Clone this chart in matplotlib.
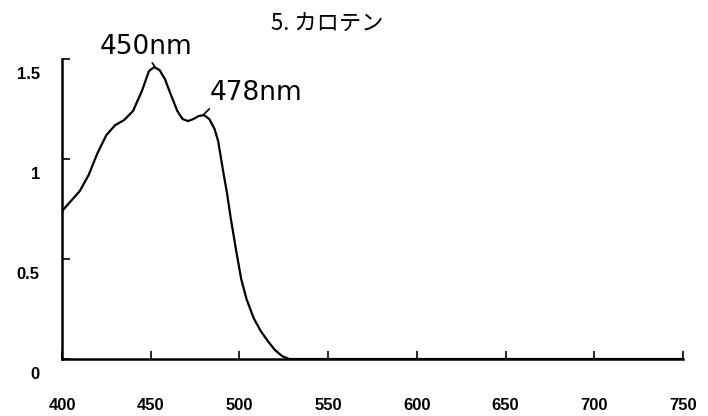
import matplotlib
matplotlib.use("Agg")
import matplotlib.pyplot as plt
import matplotlib.transforms as mtransforms

# carotene absorption spectrum
wavelength = [400, 405, 410, 415, 420, 425, 430, 435, 440, 445, 449, 452,
              455, 458, 461, 465, 468, 471, 474, 477, 480, 483, 486, 488,
              491, 493, 495, 498, 501, 504, 508, 512, 516, 520, 524, 528,
              560, 600, 650, 700, 750]
absorbance = [0.74, 0.79, 0.84, 0.92, 1.03, 1.12, 1.17, 1.195, 1.24, 1.34,
              1.44, 1.46, 1.445, 1.40, 1.33, 1.24, 1.20, 1.19, 1.20, 1.215,
              1.22, 1.20, 1.15, 1.09, 0.93, 0.83, 0.71, 0.55, 0.40, 0.30,
              0.205, 0.14, 0.09, 0.045, 0.015, 0.0, 0.0, 0.0, 0.0, 0.0, 0.0]

x_ticks = [400, 450, 500, 550, 600, 650, 700, 750]
y_ticks = [0, 0.5, 1, 1.5]
y_labels = ["0", "0.5", "1", "1.5"]

title = "5. カロテン"
peak1 = ((452.5, 1.46), "450nm")
peak2 = ((479.5, 1.22), "478nm")

plt.rcParams['font.family'] = ['DejaVu Sans', 'Noto Sans CJK JP']

fig = plt.figure(figsize=(7.08, 4.16), dpi=100)
ax = fig.add_axes([0.0876, 0.137, 0.877, 0.721])

ax.plot(wavelength, absorbance, color='black', linewidth=1.6)

ax.set_xlim(400, 750)
ax.set_ylim(0, 1.5)
ax.spines['top'].set_visible(False)
ax.spines['right'].set_visible(False)
ax.spines['left'].set_linewidth(1.8)
ax.spines['bottom'].set_linewidth(1.8)

ax.set_xticks(x_ticks)
ax.set_yticks(y_ticks)
ax.set_yticklabels(y_labels)
ax.tick_params(axis='both', direction='in', length=6, width=1.2,
               labelsize=12)
ax.tick_params(axis='x', pad=28)
ax.tick_params(axis='y', pad=16)
for lab in ax.get_xticklabels() + ax.get_yticklabels():
    lab.set_family('Liberation Sans')
    lab.set_fontweight('bold')
# y labels sit a bit below their ticks in the original
shift = mtransforms.ScaledTranslation(0, -14 / 100, fig.dpi_scale_trans)
for lab in ax.get_yticklabels():
    lab.set_transform(lab.get_transform() + shift)

ax.annotate(peak1[1], xy=peak1[0], xytext=(447.5, 1.56),
            fontsize=19, ha='center', va='center',
            arrowprops=dict(arrowstyle='-', color='black', lw=1.2,
                            shrinkA=0, shrinkB=0, relpos=(0.52, 0.12)),
            annotation_clip=False)
ax.annotate(peak2[1], xy=peak2[0], xytext=(509.5, 1.33),
            fontsize=19, ha='center', va='center',
            arrowprops=dict(arrowstyle='-', color='black', lw=1.2,
                            shrinkA=0, shrinkB=0, relpos=(0.06, 0.12)),
            annotation_clip=False)

fig.text(0.462, 0.942, title, fontsize=16, ha='center', va='center',
         family=['Noto Sans CJK JP', 'DejaVu Sans'])

fig.savefig("out.png", dpi=100)
